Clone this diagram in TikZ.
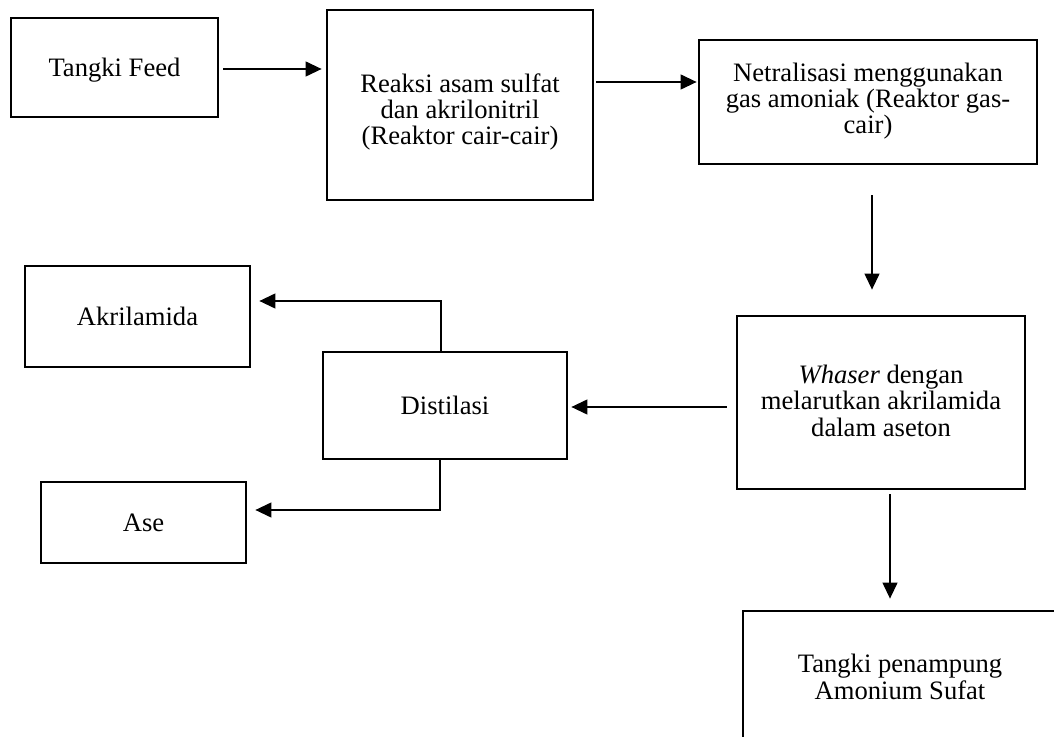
\documentclass[tikz,border=0pt]{standalone}
\usepackage{fontspec}
\setmainfont{Liberation Serif}
\usetikzlibrary{arrows.meta}
\newcommand\boxtext[2]{\raisebox{-#1}[\height][\depth]{\begin{tabular}{@{}c@{}}#2\end{tabular}}}
\tikzset{
  box/.style={draw, line width=1.4pt, inner sep=0pt,
    font=\fontsize{13.3}{13}\selectfont},
  arr/.style={line width=0.6pt, -{Triangle[length=8pt,width=7.5pt]}},
}
\begin{document}
\begin{tikzpicture}[x=0.5pt,y=-0.5pt]
\useasboundingbox (0,0) rectangle (1054,737);
\clip (0,0) rectangle (1054,737);
\node[box, minimum width=103.5pt, minimum height=49.5pt] (feed) at (114.5,67.5) {\boxtext{2pt}{Tangki Feed}};
\node[box, minimum width=133pt, minimum height=95pt] (react) at (460,105) {\boxtext{4pt}{Reaksi asam sulfat\\dan akrilonitril\\(Reaktor cair-cair)}};
\node[box, minimum width=169pt, minimum height=62pt] (neut) at (868,102) {\boxtext{0pt}{Netralisasi menggunakan\\gas amoniak (Reaktor gas-\\cair)}};
\node[box, minimum width=144pt, minimum height=86.5pt] (wash) at (881,402.5) {\boxtext{1pt}{\textit{Whaser} dengan\\melarutkan akrilamida\\dalam aseton}};
\node[box, minimum width=122pt, minimum height=53.5pt] (dist) at (445,405.5) {\boxtext{1.6pt}{Distilasi}};
\node[box, minimum width=112.5pt, minimum height=50.5pt] (akril) at (137.5,316.5) {\boxtext{1.6pt}{Akrilamida}};
\node[box, minimum width=102.5pt, minimum height=40.5pt] (ase) at (143.5,522.5) {\boxtext{2pt}{Ase}};
\node[box, minimum width=157pt, minimum height=69.5pt] (tank) at (900,680.5) {\boxtext{0pt}{Tangki penampung\\Amonium Sufat}};

\draw[arr, shorten <=2pt, shorten >=2pt] ([yshift=-0.75pt]feed.east) -- ([yshift=-0.75pt]feed.east -| react.west);
\draw[arr, shorten <=1pt, shorten >=0.5pt] ([yshift=11.5pt]react.east) -- ([yshift=11.5pt]react.east -| neut.west);
\draw[arr, shorten <=15pt, shorten >=12.5pt] ([xshift=2pt]neut.south) -- ([xshift=2pt]neut.south |- wash.north);
\draw[arr, shorten <=4.5pt, shorten >=1.5pt] ([yshift=-2.25pt]wash.west) -- ([yshift=-2.25pt]wash.west -| dist.east);
\draw[arr, shorten >=4pt] ([xshift=-2pt]dist.north) |- ([yshift=7.75pt]akril.east);
\draw[arr, shorten >=4pt] ([xshift=-2.5pt]dist.south) |- ([yshift=6.25pt]ase.east);
\draw[arr, shorten <=2pt, shorten >=5.5pt] ([xshift=4.5pt]wash.south) -- ([xshift=4.5pt]wash.south |- tank.north);
\end{tikzpicture}
\end{document}
